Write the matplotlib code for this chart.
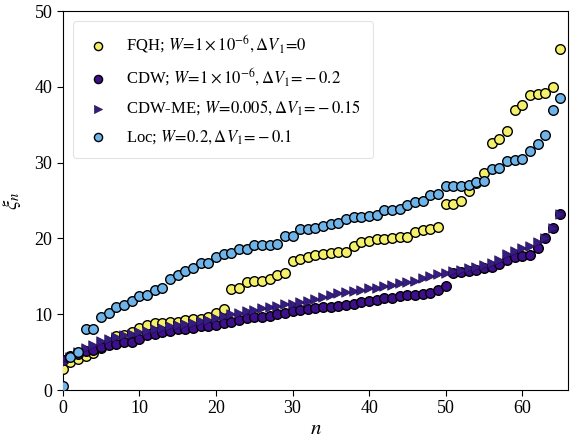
import numpy as np
import matplotlib
matplotlib.use("Agg")
import matplotlib.pyplot as plt

plt.rcParams['font.family'] = ['Liberation Serif', 'DejaVu Serif']
plt.rcParams['mathtext.fontset'] = 'stix'

n = list(range(66))

fqh = [2.8, 3.7, 4.1, 4.5, 4.9, 5.6, 6.2, 7.1, 7.3, 7.7,
       8.2, 8.6, 8.8, 8.9, 9.0, 9.0, 9.3, 9.4, 9.4, 9.7,
       10.1, 10.7, 13.3, 13.4, 14.2, 14.4, 14.4, 14.7, 15.2, 15.5,
       17.0, 17.3, 17.6, 17.8, 17.9, 18.1, 18.2, 18.2, 19.0, 19.5,
       19.7, 19.9, 19.9, 20.0, 20.2, 20.2, 20.9, 21.1, 21.3, 21.5,
       24.5, 24.6, 24.9, 26.3, 27.3, 28.6, 32.6, 33.1, 34.2, 37.0,
       37.6, 38.9, 39.1, 39.2, 40.0, 45.0]

cdw = [3.9, 4.5, 4.8, 5.1, 5.3, 5.7, 5.9, 6.1, 6.3, 6.4,
       6.7, 7.2, 7.4, 7.6, 7.8, 8.0, 8.1, 8.2, 8.4, 8.5,
       8.6, 8.8, 9.0, 9.3, 9.5, 9.6, 9.7, 9.8, 10.0, 10.2,
       10.4, 10.5, 10.7, 10.8, 10.9, 11.0, 11.1, 11.2, 11.4, 11.6,
       11.8, 11.9, 12.1, 12.2, 12.4, 12.5, 12.6, 12.7, 12.8, 13.2,
       13.7, 15.4, 15.6, 15.7, 15.9, 16.1, 16.3, 16.6, 17.2, 17.5,
       17.7, 17.8, 18.8, 20.0, 21.4, 23.2]

cdw_me = [3.5, 4.3, 5.0, 5.5, 6.0, 6.5, 6.7, 7.0, 7.2, 7.4,
          7.6, 7.8, 8.0, 8.2, 8.4, 8.6, 8.7, 8.9, 9.1, 9.3,
          9.5, 9.8, 10.0, 10.2, 10.4, 10.6, 10.8, 10.9, 11.1, 11.3,
          11.4, 11.6, 11.8, 12.0, 12.3, 12.6, 12.8, 12.9, 13.1, 13.2,
          13.4, 13.5, 13.7, 13.9, 14.1, 14.2, 14.4, 14.8, 15.0, 15.3,
          15.5, 15.7, 15.9, 16.1, 16.3, 16.5, 16.8, 17.2, 17.9, 18.3,
          18.8, 19.0, 19.6, 20.0, 21.4, 23.2]

loc = [0.5, 4.4, 5.0, 8.0, 8.0, 9.6, 10.2, 11.0, 11.2, 11.8,
       12.4, 12.5, 13.2, 13.5, 14.7, 15.2, 15.7, 16.1, 16.7, 16.7,
       17.6, 18.0, 18.1, 18.6, 18.6, 19.2, 19.2, 19.2, 19.3, 20.3,
       20.3, 21.2, 21.3, 21.4, 21.7, 21.9, 22.1, 22.6, 22.9, 22.9,
       23.0, 23.1, 23.7, 23.8, 23.9, 24.4, 24.8, 24.9, 25.7, 25.9,
       26.9, 26.9, 26.9, 27.0, 27.5, 27.6, 29.2, 29.3, 30.2, 30.3,
       30.5, 31.5, 32.5, 33.6, 37.0, 38.6]

labels = [r"FQH; $W\!=\!1\times10^{-6}, \Delta V_1\!=\!0$",
          r"CDW; $W\!=\!1\times10^{-6}, \Delta V_1\!=\!-0.2$",
          r"CDW-ME; $W\!=\!0.005, \Delta V_1\!=\!-0.15$",
          r"Loc; $W\!=\!0.2, \Delta V_1\!=\!-0.1$"]

fig = plt.figure(figsize=(5.71, 4.40), dpi=100)
ax = fig.add_axes([0.110, 0.1136, 0.885, 0.861])

s = 48
ax.scatter(n, fqh, s=s, marker='o', facecolor='#f5f06a', edgecolor='black', linewidth=1.0, label=labels[0], zorder=3)
ax.scatter(n, cdw, s=s, marker='o', facecolor='#3d0f8a', edgecolor='black', linewidth=1.0, label=labels[1], zorder=3)
ax.scatter(n, cdw_me, s=s, marker='>', facecolor='#341c80', edgecolor='#1a0a40', linewidth=0.4, label=labels[2], zorder=3)
ax.scatter(n, loc, s=s, marker='o', facecolor='#6fb4e8', edgecolor='black', linewidth=1.0, label=labels[3], zorder=3)

ax.set_xlim(0, 66)
ax.set_ylim(0, 50)
ax.set_xticks([0, 10, 20, 30, 40, 50, 60])
ax.set_yticks([0, 10, 20, 30, 40, 50])
ax.tick_params(direction='out', labelsize=13, length=4, width=0.8)
for sp in ax.spines.values():
    sp.set_linewidth(0.8)

ax.set_xlabel(r"$n$", fontsize=15, labelpad=2)
ax.set_ylabel(r"$\xi_n$", fontsize=15, labelpad=8)

leg = ax.legend(loc='upper left', fontsize=12, labelspacing=0.66, handletextpad=0.9,
                borderpad=0.7, frameon=True, fancybox=True, borderaxespad=0.6,
                markerscale=0.85, handlelength=1.6)
leg.get_frame().set_edgecolor('#dddddd')
leg.get_frame().set_linewidth(0.8)

fig.savefig("out.png", dpi=100)
